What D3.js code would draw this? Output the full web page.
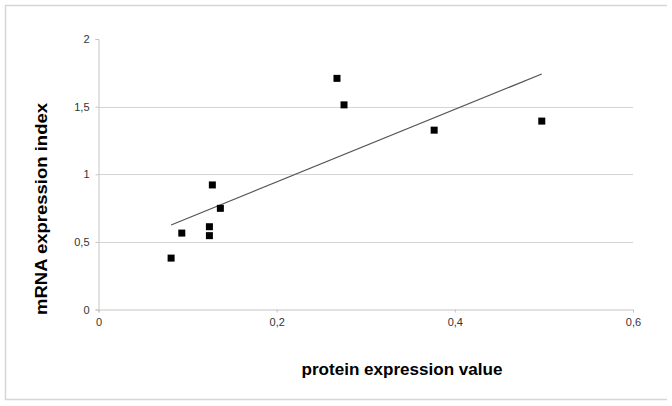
<!DOCTYPE html>
<head>
    <meta charset="utf-8">
    <script src="https://cdn.jsdelivr.net/npm/d3@7"></script>
</head>
<style>
    body { margin: 0; background: white; }
    text { font-family: "Liberation Sans", Arial, sans-serif; }
</style>
<body>
<svg id="chart" width="672" height="406"></svg>
</body>
<script>
    // protein expression (x) vs mRNA expression index (y)
    var proteinValues = [0.0815, 0.0935, 0.1245, 0.1245, 0.1278, 0.1368, 0.2677, 0.2756, 0.3768, 0.4976]
    var mrnaValues    = [0.38, 0.565, 0.546, 0.612, 0.921, 0.748, 1.709, 1.513, 1.326, 1.393]
    var xTicks = [0, 0.2, 0.4, 0.6]
    var yTicks = [0, 0.5, 1, 1.5, 2]

    var svg = d3.select("#chart")
    var fmt = v => String(v).replace(".", ",")

    var x = d3.scaleLinear().domain([0, 0.6]).range([98.5, 633])
    var y = d3.scaleLinear().domain([0, 2]).range([309.5, 39])

    // outer frame (left, top, bottom)
    svg.append("path")
        .attr("d", "M667,5.5 H5.5 V399.5 H667")
        .attr("fill", "none")
        .attr("stroke", "#d6d6d6")
        .attr("stroke-width", 1.5)

    // horizontal grid lines (no line at the top value)
    svg.append("g").selectAll("line")
        .data(yTicks.filter(v => v > 0 && v < 2))
        .enter().append("line")
        .attr("x1", x(0)).attr("x2", x(0.6))
        .attr("y1", d => Math.round(y(d)) + 0.5)
        .attr("y2", d => Math.round(y(d)) + 0.5)
        .attr("stroke", "#d4d4d4")

    // y axis
    var yAxis = svg.append("g")
        .attr("transform", "translate(" + x(0) + ",0)")
        .call(d3.axisLeft(y).tickValues(yTicks).tickFormat(fmt).tickSize(3).tickPadding(6))
    yAxis.select(".domain").attr("stroke", "#c4c4c4")
    yAxis.selectAll(".tick line").attr("stroke", "#c4c4c4")
    yAxis.selectAll("text").style("font-size", "11px").attr("fill", "#333")

    // x axis
    var xAxis = svg.append("g")
        .attr("transform", "translate(0," + y(0) + ")")
        .call(d3.axisBottom(x).tickValues(xTicks).tickFormat(fmt).tickSize(3).tickPadding(6))
    xAxis.select(".domain").attr("stroke", "#c4c4c4")
    xAxis.selectAll(".tick line").attr("stroke", "#c4c4c4")
    xAxis.selectAll("text").style("font-size", "11px").attr("fill", "#333")

    // linear trend line (least squares)
    var mx = d3.mean(proteinValues), my = d3.mean(mrnaValues)
    var sxy = d3.sum(proteinValues, (v, i) => (v - mx) * (mrnaValues[i] - my))
    var sxx = d3.sum(proteinValues, v => (v - mx) * (v - mx))
    var slope = sxy / sxx, icept = my - slope * mx
    var x0 = d3.min(proteinValues), x1 = d3.max(proteinValues)
    svg.append("line")
        .attr("x1", x(x0)).attr("y1", y(icept + slope * x0))
        .attr("x2", x(x1)).attr("y2", y(icept + slope * x1))
        .attr("stroke", "#555")
        .attr("stroke-width", 1.2)

    // points
    svg.append("g").selectAll("rect")
        .data(proteinValues)
        .enter().append("rect")
        .attr("x", (d, i) => x(d) - 3.5)
        .attr("y", (d, i) => y(mrnaValues[i]) - 3.5)
        .attr("width", 7)
        .attr("height", 7)
        .attr("fill", "black")

    // axis titles
    svg.append("text")
        .attr("x", 402).attr("y", 375)
        .attr("text-anchor", "middle")
        .attr("textLength", 201)
        .attr("lengthAdjust", "spacingAndGlyphs")
        .style("font", "bold 17px 'Liberation Sans', Arial, sans-serif")
        .text("protein expression value")

    svg.append("text")
        .attr("transform", "translate(47,209) rotate(-90)")
        .attr("text-anchor", "middle")
        .attr("textLength", 212)
        .attr("lengthAdjust", "spacingAndGlyphs")
        .style("font", "bold 17px 'Liberation Sans', Arial, sans-serif")
        .text("mRNA expression index")
</script>
</html>
